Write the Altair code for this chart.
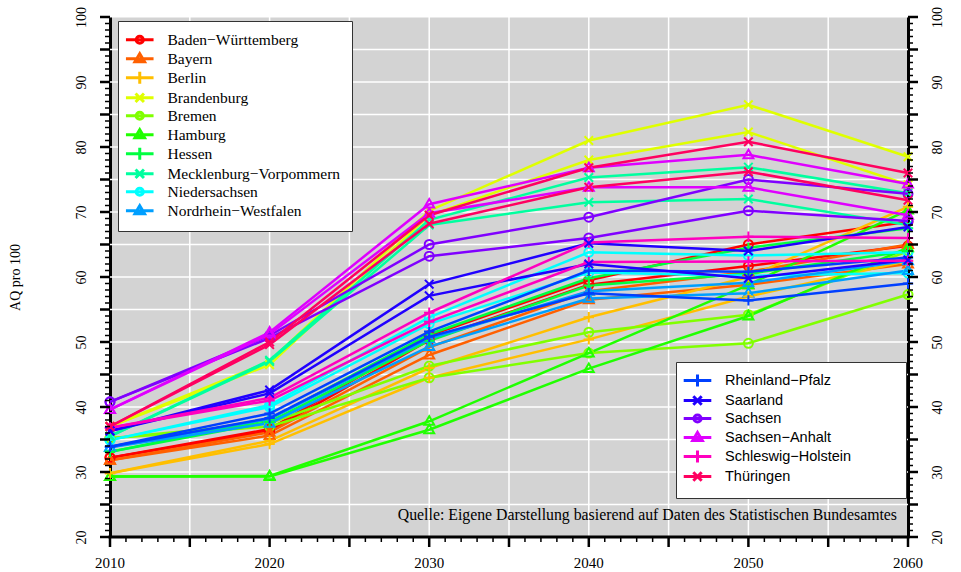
import altair as alt
import pandas as pd

years = [2010, 2020, 2030, 2040, 2050, 2060]

states = [
    "Baden−Württemberg", "Bayern", "Berlin", "Brandenburg", "Bremen",
    "Hamburg", "Hessen", "Mecklenburg−Vorpommern", "Niedersachsen",
    "Nordrhein−Westfalen", "Rheinland−Pfalz", "Saarland", "Sachsen",
    "Sachsen−Anhalt", "Schleswig−Holstein", "Thüringen",
]

colors = [
    "#FF0000", "#FF6000", "#FFBF00", "#DFFF00", "#80FF00", "#20FF00",
    "#00FF40", "#00FF9F", "#00FFFF", "#009FFF", "#0040FF", "#2000FF",
    "#8000FF", "#DF00FF", "#FF00BF", "#FF0060",
]

markers = ["circle", "triangle", "plus", "cross"] * 4

# Altenquotient, upper variant (one row per Land, values for 2010..2060)
upper = [
    [32.2, 36.6, 51.0, 59.5, 65.0, 68.5],
    [31.8, 36.1, 49.2, 57.8, 60.8, 65.0],
    [29.8, 34.8, 46.0, 53.8, 60.0, 70.8],
    [37.0, 47.0, 70.2, 81.0, 86.5, 78.5],
    [35.2, 37.5, 46.3, 51.5, 54.2, 64.0],
    [29.3, 29.4, 37.8, 48.3, 58.8, 70.3],
    [33.1, 38.1, 51.2, 59.8, 64.5, 67.5],
    [35.5, 47.2, 68.8, 75.3, 76.9, 72.9],
    [34.9, 40.3, 53.8, 63.8, 63.3, 63.8],
    [33.8, 38.2, 50.5, 57.8, 59.1, 62.5],
    [33.9, 39.0, 51.6, 61.0, 60.8, 63.0],
    [36.3, 42.6, 58.9, 65.2, 64.0, 67.7],
    [40.8, 51.0, 65.0, 69.2, 75.0, 72.8],
    [39.6, 51.5, 71.2, 76.8, 78.8, 74.3],
    [36.8, 41.4, 54.5, 65.3, 66.2, 66.0],
    [37.0, 50.0, 69.5, 76.8, 80.8, 76.0],
]

# Altenquotient, lower variant
lower = [
    [32.2, 36.3, 50.3, 58.8, 61.7, 64.8],
    [31.8, 35.6, 48.0, 56.5, 58.8, 62.0],
    [29.8, 34.3, 44.5, 50.4, 57.0, 62.5],
    [37.0, 46.5, 69.5, 78.0, 82.3, 74.2],
    [35.2, 37.0, 44.5, 48.3, 49.8, 57.3],
    [29.3, 29.3, 36.5, 45.9, 54.0, 64.5],
    [33.1, 37.7, 50.2, 58.7, 60.5, 64.0],
    [35.5, 47.0, 68.0, 71.5, 72.0, 68.0],
    [34.9, 40.0, 52.8, 60.7, 60.2, 60.6],
    [33.8, 37.5, 49.3, 56.7, 57.5, 61.0],
    [33.9, 38.3, 50.8, 57.5, 56.4, 59.0],
    [36.3, 42.1, 57.1, 62.0, 59.8, 62.6],
    [40.8, 50.6, 63.2, 66.0, 70.2, 68.6],
    [39.6, 51.2, 69.8, 73.8, 73.8, 69.5],
    [36.8, 41.0, 53.1, 62.3, 62.4, 62.5],
    [37.0, 49.6, 68.2, 73.8, 76.2, 71.8],
]

grid_years = list(range(2015, 2060, 5))
grid_levels = list(range(25, 100, 5))
tick_years = list(range(2010, 2061))
tick_levels = list(range(20, 101))

source_text = "Quelle: Eigene Darstellung basierend auf Daten des Statistischen Bundesamtes"

SERIF = "Liberation Serif"
SANS = "Liberation Sans"

rows = []
for i, land in enumerate(states):
    for variant, table in (("oben", upper), ("unten", lower)):
        for yr, val in zip(years, table[i]):
            rows.append({"Land": land, "Variante": variant, "Jahr": yr,
                         "AQ": val, "Marker": markers[i]})
df = pd.DataFrame(rows)

# open plot symbols (unit box [-1, 1])
point_paths = {
    "circle": "M-1,0A1,1,0,1,1,1,0A1,1,0,1,1,-1,0Z",
    "triangle": "M0,-1.15L1.1,0.75L-1.1,0.75Z",
    "plus": "M-1.15,0H1.15M0,-1.15V1.15",
    "cross": "M-0.95,-0.95L0.95,0.95M-0.95,0.95L0.95,-0.95",
}
# legend keys: a line segment with the symbol on top
legend_paths = {
    "circle": "M-2.3,0H2.3M-0.6,0A0.6,0.6,0,1,1,0.6,0A0.6,0.6,0,1,1,-0.6,0Z",
    "triangle": "M-2.3,0H2.3M0,-0.85L0.8,0.5L-0.8,0.5Z",
    "plus": "M-2.3,0H2.3M0,-1V1",
    "cross": "M-2.3,0H2.3M-0.7,-0.7L0.7,0.7M-0.7,0.7L0.7,-0.7",
}

xscale = alt.Scale(domain=[2010, 2060], nice=False, zero=False)
yscale = alt.Scale(domain=[20, 100], nice=False, zero=False)

label10 = "datum.value % 10 === 0 ? datum.label : ''"

y_common = dict(
    values=list(range(20, 101, 10)), format="d", grid=False, ticks=False,
    domainColor="black", domainWidth=3, labelExpr=label10,
    labelFont=SERIF, labelFontSize=14, labelColor="black",
    labelOverlap=False, labelFlush=False, labelPadding=22,
    labelAngle=270, labelAlign="center",
)

y_left = alt.Axis(orient="left", labelBaseline="bottom",
                  title="AQ pro 100", titleFont=SERIF, titleFontSize=14,
                  titleFontWeight="normal", titleColor="black", titleAngle=270,
                  titleX=-95, titleY=260, titleAlign="center", titleBaseline="middle",
                  **y_common)

y_right = alt.Axis(orient="right", labelBaseline="top", title=None, **y_common)


def make_legend(lx, ly, font, size, spacer=None):
    extra = {}
    if spacer:
        # transparent title on the right keeps the box as wide as the printed one
        extra = dict(title=spacer, titleOrient="right", titleOpacity=0,
                     titleFont=font, titleFontSize=13, titlePadding=0)
    else:
        extra = dict(title=None)
    return alt.Legend(
        orient="none", legendX=lx, legendY=ly, direction="vertical",
        labelFont=font, labelFontSize=size, labelColor="black", labelLimit=500,
        symbolSize=144, symbolStrokeWidth=3, symbolOpacity=1, symbolOffset=3,
        symbolFillColor="transparent", padding=11, rowPadding=-3, labelOffset=20,
        fillColor="white", strokeColor="#333333", cornerRadius=0, **extra,
    )


x_plain = alt.X("Jahr:Q", scale=xscale, axis=None)
y_plain = alt.Y("AQ:Q", scale=yscale, axis=None)


def group_layers(names, legend, y_ax):
    cols = [colors[states.index(n)] for n in names]
    sub = df[df["Land"].isin(names)]
    cscale = alt.Scale(domain=names, range=cols)
    color_plain = alt.Color("Land:N", scale=cscale, legend=None)

    lines = alt.Chart(sub).mark_line(strokeWidth=2.5).encode(
        x=x_plain,
        y=alt.Y("AQ:Q", scale=yscale, axis=y_ax),
        color=color_plain,
        detail="Variante:N",
    )

    layers = [lines]
    for m in ["circle", "triangle", "plus", "cross"]:
        part = sub[sub["Marker"] == m]
        if len(part) == 0:
            continue
        layers.append(
            alt.Chart(part).mark_point(shape=point_paths[m], size=81, strokeWidth=2,
                                       filled=False, opacity=1).encode(
                x=x_plain, y=y_plain, color=color_plain,
            )
        )

    key = sub[(sub["Jahr"] == 2010) & (sub["Variante"] == "oben")]
    shapes = [legend_paths[markers[states.index(n)]] for n in names]
    layers.append(
        alt.Chart(key).mark_point(opacity=0, filled=False).encode(
            x=x_plain, y=y_plain,
            color=alt.Color("Land:N", scale=cscale, legend=legend),
            shape=alt.Shape("Land:N", scale=alt.Scale(domain=names, range=shapes), legend=legend),
        )
    )
    return layers


# white grid, drawn beneath the series
grid_h = alt.Chart(pd.DataFrame({"v": grid_levels})).mark_rule(
    color="white", strokeWidth=1.5
).encode(y=alt.Y("v:Q", scale=yscale, axis=None))

grid_v = alt.Chart(pd.DataFrame({"v": grid_years})).mark_rule(
    color="white", strokeWidth=1.5
).encode(x=alt.X("v:Q", scale=xscale, axis=None))

# bottom axis: baseline, yearly ticks (longer every five years) and decade labels
xt = pd.DataFrame({"Jahr": tick_years})
xt["major"] = xt["Jahr"] % 5 == 0

x_line = alt.Chart(pd.DataFrame({"a": [years[0]], "b": [years[-1]]})).mark_rule(
    color="black", strokeWidth=3, strokeCap="square"
).encode(x=alt.X("a:Q", scale=xscale, axis=None), x2="b:Q", y=alt.value(520))

x_major = alt.Chart(xt[xt["major"]]).mark_rule(color="black", strokeWidth=2.5).encode(
    x=x_plain, y=alt.value(520), y2=alt.value(530))

x_minor = alt.Chart(xt[~xt["major"]]).mark_rule(color="black", strokeWidth=1.5).encode(
    x=x_plain, y=alt.value(520), y2=alt.value(525))

x_labels = alt.Chart(pd.DataFrame({"Jahr": years})).mark_text(
    font=SERIF, fontSize=15, color="black", baseline="alphabetic", align="center"
).encode(x=x_plain, y=alt.value(551), text=alt.Text("Jahr:Q", format="d"))

# tick marks on both vertical axes: every unit, longer every five
yt = pd.DataFrame({"AQ": tick_levels})
yt["major"] = yt["AQ"] % 5 == 0
y_ticks = []
for is_major, length, width in ((True, 10, 2.5), (False, 5, 1.5)):
    part = yt[yt["major"] == is_major]
    y_ticks.append(alt.Chart(part).mark_rule(color="black", strokeWidth=width).encode(
        y=y_plain, x=alt.value(-length), x2=alt.value(0)))
    y_ticks.append(alt.Chart(part).mark_rule(color="black", strokeWidth=width).encode(
        y=y_plain, x=alt.value(798), x2=alt.value(798 + length)))

group1 = states[:10]
group2 = states[10:]

layers1 = group_layers(group1, make_legend(8, 4, SERIF, 15.5), y_left)
layers2 = group_layers(group2, make_legend(566, 345, SANS, 14.5, "Länder"), y_right)

note = alt.Chart(pd.DataFrame({"t": [source_text]})).mark_text(
    align="right", baseline="alphabetic", font=SERIF, fontSize=15.8, color="black"
).encode(x=alt.value(787), y=alt.value(503), text="t:N")

chart = alt.layer(
    grid_h, grid_v, *layers1, *layers2, *y_ticks,
    x_minor, x_major, x_line, x_labels, note
).resolve_scale(
    color="independent", shape="independent"
).resolve_axis(y="independent").properties(
    width=798, height=520,
    autosize=alt.AutoSizeParams(type="none"),
    padding={"left": 110, "top": 17, "right": 53, "bottom": 35},
    background="white",
).configure_view(fill="#D3D3D3", stroke="transparent")

chart.save("out.html", embed_options={"renderer": "svg", "actions": False})
